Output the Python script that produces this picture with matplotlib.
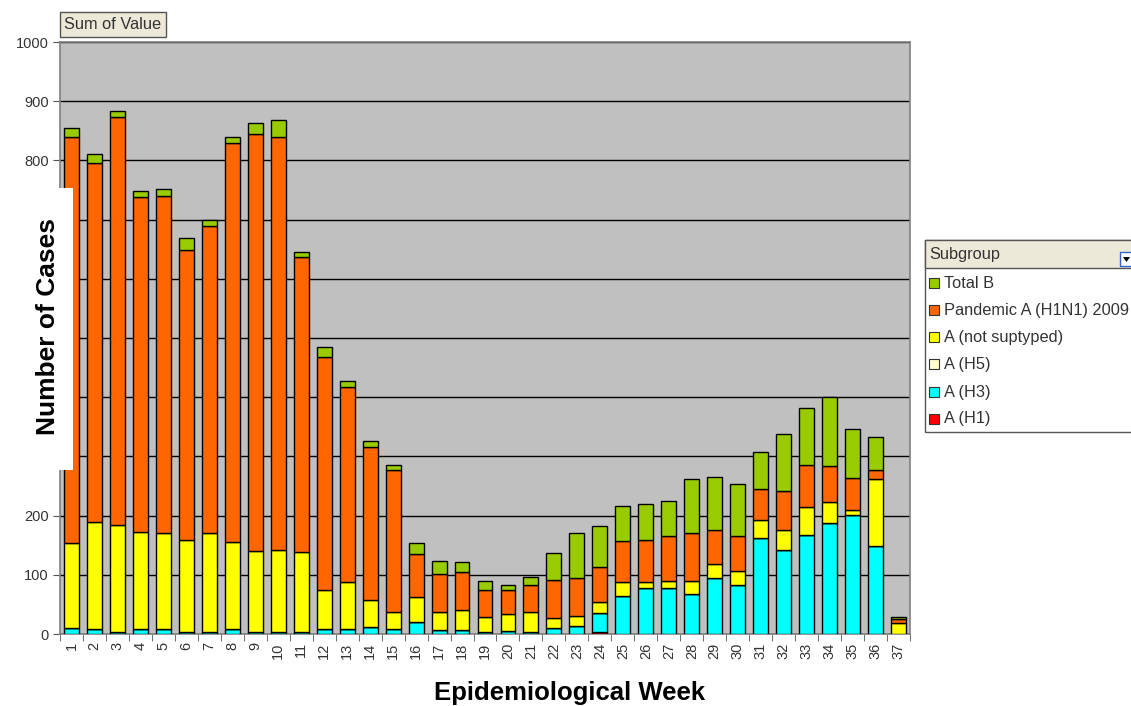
import numpy as np
import matplotlib
matplotlib.use("Agg")
import matplotlib.pyplot as plt
from matplotlib.patches import Rectangle, Polygon

plt.rcParams['font.family'] = ['Liberation Sans', 'DejaVu Sans']

# data
weeks = [str(w) for w in range(1, 38)]
a_h1 = [0, 0, 0, 0, 0, 0, 0, 0, 0, 0, 0, 0, 0, 0, 0, 0, 0, 0, 0, 0, 0,
        0, 0, 4, 0, 0, 0, 0, 0, 0, 0, 0, 0, 0, 0, 0, 0]
a_h3 = [10, 9, 4, 8, 8, 4, 4, 8, 3, 4, 3, 8, 8, 12, 8, 20, 7, 6, 3, 5, 3,
        10, 13, 32, 65, 77, 78, 68, 95, 82, 162, 142, 167, 188, 201, 148, 0]
a_h5 = [0] * 37
a_notsub = [143, 181, 180, 164, 162, 154, 166, 147, 138, 138, 135, 67, 79, 46,
            30, 42, 30, 34, 26, 29, 35, 17, 17, 18, 23, 11, 12, 21, 23, 25,
            31, 34, 48, 35, 9, 113, 18]
pandemic = [686, 605, 689, 566, 570, 491, 520, 675, 703, 698, 499, 393, 331,
            258, 239, 73, 64, 65, 46, 41, 44, 64, 64, 59, 69, 71, 76, 82, 57,
            59, 52, 65, 70, 60, 53, 16, 7]
total_b = [16, 16, 11, 11, 12, 20, 9, 10, 19, 29, 8, 16, 9, 10, 9, 18, 23, 17,
           14, 8, 14, 45, 77, 70, 59, 61, 58, 91, 91, 87, 62, 96, 96, 117, 84,
           56, 4]
# 300-700 are hidden behind the axis title box in the original
y_labels = ["0", "100", "200", "", "", "", "", "", "800", "900", "1000"]

series = [
    ("A (H1)", a_h1, "#FF0000"),
    ("A (H3)", a_h3, "#00FFFF"),
    ("A (H5)", a_h5, "#FFFFCC"),
    ("A (not suptyped)", a_notsub, "#FFFF00"),
    ("Pandemic A (H1N1) 2009", pandemic, "#FF6600"),
    ("Total B", total_b, "#99CC00"),
]

W, H = 1131, 706
fig = plt.figure(figsize=(W / 100, H / 100), dpi=100)
fig.patch.set_facecolor("white")


def fx(x):
    return x / W


def fy(y):
    return 1 - y / H


ax = fig.add_axes([fx(60), fy(634), fx(910) - fx(60), fy(42) - fy(634)])
ax.set_facecolor("#C0C0C0")

x = np.arange(len(weeks))
bottom = np.zeros(len(weeks))
for name, vals, col in series:
    vals = np.array(vals, dtype=float)
    ax.bar(x, vals, 0.65, bottom=bottom, color=col, edgecolor="black",
           linewidth=1, zorder=3)
    bottom += vals

ax.set_xlim(-0.5, len(weeks) - 0.5)
ax.set_ylim(0, 1000)
ax.set_yticks(np.arange(0, 1001, 100))
ax.set_yticklabels(y_labels, fontsize=10.5, color="#333333")
ax.yaxis.grid(True, color="black", linewidth=1, zorder=0)
ax.set_axisbelow(True)

ax.set_xticks(x)
ax.set_xticklabels(weeks, rotation=90, fontsize=10.5, color="#333333")
ax.set_xticks(np.arange(-0.5, len(weeks), 1), minor=True)
ax.tick_params(axis="x", which="major", length=0, pad=6)
ax.tick_params(axis="x", which="minor", length=5, color="#555555")
ax.tick_params(axis="y", length=5, color="#555555", pad=3)
for s in ax.spines.values():
    s.set_color("#808080")
    s.set_linewidth(1.2)

# "Sum of Value" button
fig.patches.append(Rectangle((fx(60), fy(37)), fx(166) - fx(60), fy(12) - fy(37),
                             transform=fig.transFigure, facecolor="#ECE9D8",
                             edgecolor="#555555", linewidth=1))
fig.text(fx(64), fy(24.5), "Sum of Value", fontsize=11.8, color="#333333",
         va="center", ha="left")

# white box behind y label
fig.patches.append(Rectangle((0, fy(470)), fx(73), fy(188) - fy(470),
                             transform=fig.transFigure, facecolor="white",
                             edgecolor="none", zorder=5))
fig.text(fx(48), fy(326), "Number of Cases", rotation=90, fontsize=19,
         fontweight="bold", ha="center", va="center", zorder=6)

fig.text(fx(570), fy(693), "Epidemiological Week", fontsize=18.5,
         fontweight="bold", ha="center", va="center")

# legend panel
fig.patches.append(Rectangle((fx(925), fy(432)), fx(1140) - fx(925), fy(240) - fy(432),
                             transform=fig.transFigure, facecolor="white",
                             edgecolor="#555555", linewidth=1))
fig.patches.append(Rectangle((fx(925), fy(268)), fx(1140) - fx(925), fy(240) - fy(268),
                             transform=fig.transFigure, facecolor="#ECE9D8",
                             edgecolor="#555555", linewidth=1))
fig.text(fx(929), fy(254), "Subgroup", fontsize=11.8, color="#333333",
         va="center", ha="left")
fig.patches.append(Rectangle((fx(1120), fy(266)), fx(1134) - fx(1120), fy(252) - fy(266),
                             transform=fig.transFigure, facecolor="white",
                             edgecolor="#3366CC", linewidth=1))
fig.patches.append(Polygon([(fx(1123), fy(257)), (fx(1130), fy(257)), (fx(1126.5), fy(262))],
                           closed=True, transform=fig.transFigure, facecolor="black"))

leg_y = [283, 310, 337, 364, 392, 419]
for (name, vals, col), yy in zip(series[::-1], leg_y):
    fig.patches.append(Rectangle((fx(929), fy(yy + 5)), fx(10), fy(0) - fy(10),
                                 transform=fig.transFigure, facecolor=col,
                                 edgecolor="#333333", linewidth=0.8))
    fig.text(fx(944), fy(yy), name, fontsize=11.8, color="#333333",
             va="center", ha="left")

fig.savefig("out.png", dpi=100)
